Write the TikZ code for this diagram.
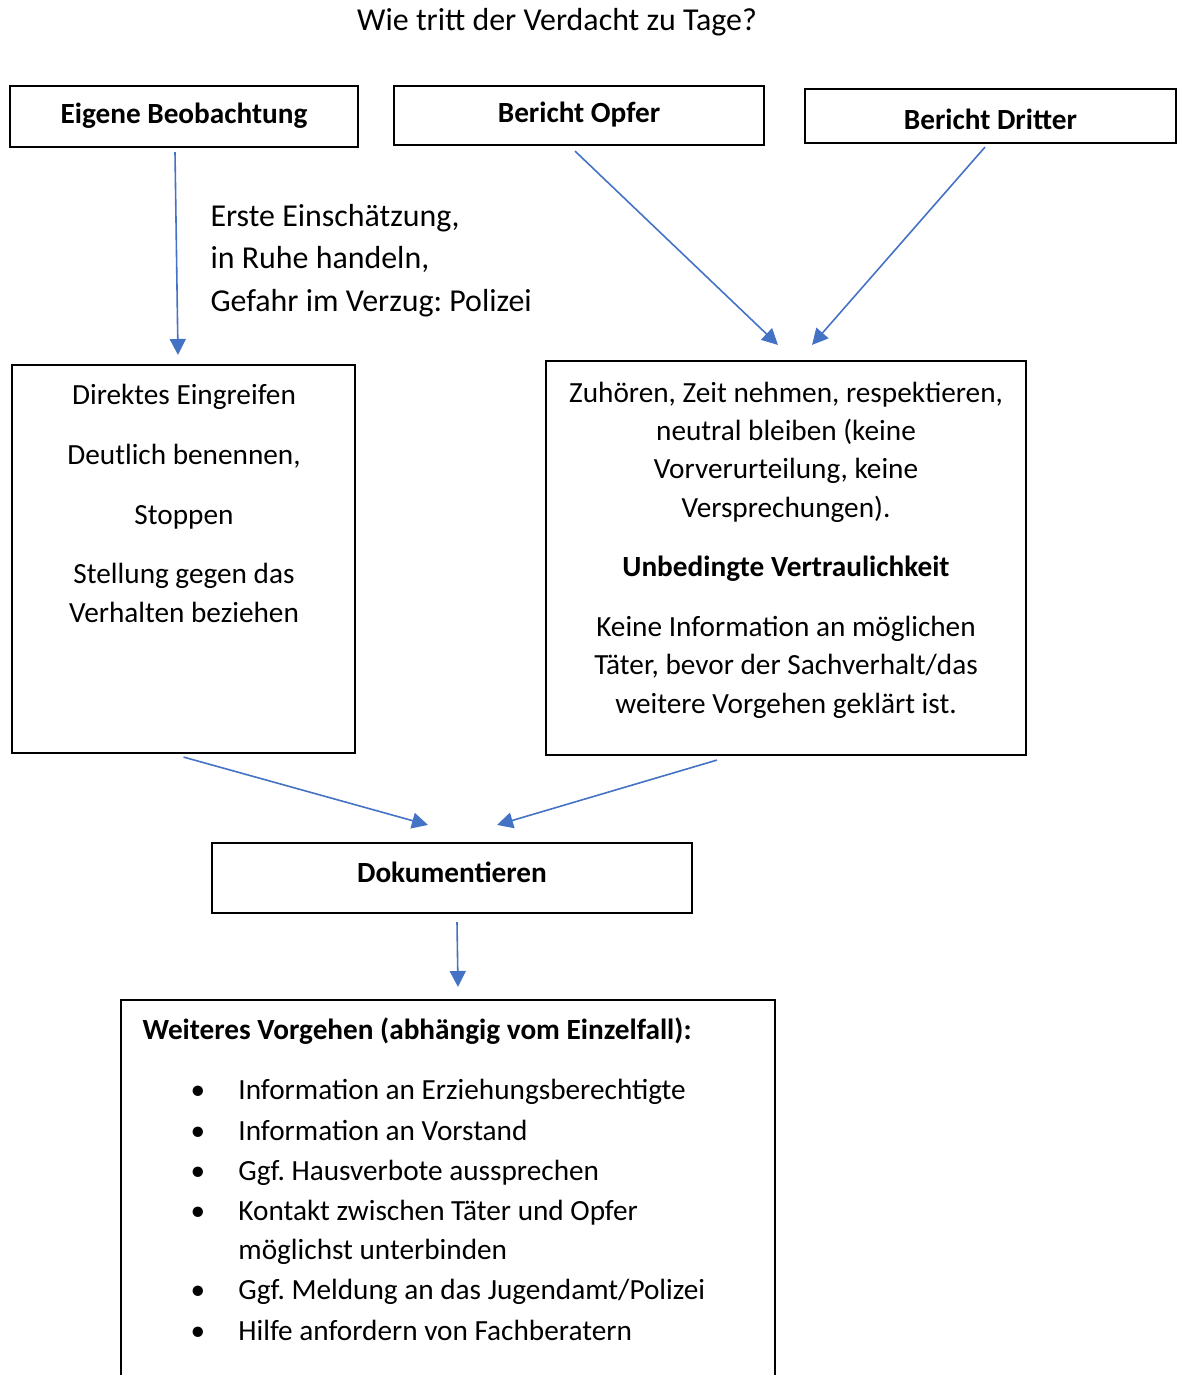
\documentclass[tikz,border=0pt]{standalone}
\usepackage{fontspec}
\setmainfont{Carlito}
\usetikzlibrary{arrows.meta,calc}
\definecolor{pfeilblau}{HTML}{4472C4}
\newlength\pxu
\setlength\pxu{0.376pt}
\newcommand\listpunkt{\makebox[18pt][l]{•}}
\frenchspacing

\begin{document}
\begin{tikzpicture}[x=0.376pt,y=-0.376pt,
  kasten/.style={draw,line width=0.8pt,inner sep=0pt},
  kopf/.style={kasten,font=\fontsize{11}{14.4}\selectfont\bfseries,text height=8pt,text depth=2.5pt},
  txt/.style={inner sep=0pt,font=\fontsize{11}{14.4}\selectfont},
  pfeil/.style={draw=pfeilblau,line width=0.6pt,-{Triangle[length=6pt,width=6pt]}}]
\useasboundingbox (0,0) rectangle (1185,1375);
\clip (0,0) rectangle (1185,1375);

% Titel und obere Reihe
\node[txt,font=\fontsize{12}{15.8}\selectfont,anchor=base] (titel) at (557,30) {Wie tritt der Verdacht zu Tage?};
\node[kopf,minimum width=348\pxu,minimum height=61\pxu] (eb) at (184,116.5) {Eigene Beobachtung};
\node[kopf,minimum width=370\pxu,minimum height=59\pxu] (opfer) at (579,115.5) {Bericht Opfer};
\node[kopf,minimum width=371\pxu,minimum height=54\pxu,text height=10pt,text depth=0pt] (dritter) at (990.5,116) {Bericht Dritter};

% base = letzte Zeile
\node[txt,font=\fontsize{12}{15.8}\selectfont,align=left,anchor=base west] (hinweis) at (210,311)
  {Erste Einschätzung,\\ in Ruhe handeln,\\ Gefahr im Verzug: Polizei};

% mittlere Reihe
\node[kasten,minimum width=343\pxu,minimum height=388\pxu] (dir) at (183.5,559) {};
\node[txt,align=center,anchor=base] (dirtext) at (184,622)
  {Direktes Eingreifen\\[8pt] Deutlich benennen,\\[8pt] Stoppen\\[8pt] Stellung gegen das\\ Verhalten beziehen};

\node[kasten,minimum width=480\pxu,minimum height=394\pxu] (zu) at (786,558) {};
\node[txt,align=center,anchor=base] (zutext) at (786,713)
  {Zuhören, Zeit nehmen, respektieren,\\ neutral bleiben (keine\\ Vorverurteilung, keine\\ Versprechungen).\\[8pt]
   \textbf{Unbedingte Vertraulichkeit}\\[8pt]
   Keine Information an möglichen\\ Täter, bevor der Sachverhalt/das\\ weitere Vorgehen geklärt ist.};

% untere Reihe
\node[kopf,minimum width=480\pxu,minimum height=70\pxu,text depth=4.8pt] (dok) at (452,878) {Dokumentieren};

\node[kasten,minimum width=654\pxu,minimum height=420\pxu] (wv) at (448,1210) {};
\node[txt,font=\fontsize{11}{14.4}\selectfont\bfseries,anchor=base west] (wvkopf) at (142,1039)
  {Weiteres Vorgehen (abhängig vom Einzelfall):};
\node[txt,align=left,anchor=base west] (wvliste) at (190,1340)
  {\listpunkt Information an Erziehungsberechtigte\\[0.8pt]
   \listpunkt Information an Vorstand\\[0.8pt]
   \listpunkt Ggf. Hausverbote aussprechen\\[0.8pt]
   \listpunkt Kontakt zwischen Täter und Opfer\\
   \hspace*{18pt}möglichst unterbinden\\[0.8pt]
   \listpunkt Ggf. Meldung an das Jugendamt/Polizei\\[0.8pt]
   \listpunkt Hilfe anfordern von Fachberatern};

% Pfeile
\draw[pfeil] ($(eb.south)+(-9,4)$) -- ($(dir.north)+(-5.5,-9)$);
\draw[pfeil] ($(opfer.south)+(-4,5)$) -- ($(zu.north)+(-8,-15)$);
\draw[pfeil] ($(dritter.south)+(-5.5,3)$) -- ($(zu.north)+(26,-15)$);
\draw[pfeil] ($(dir.south)+(0,3)$) -- ($(dok.north)+(-24,-17)$);
\draw[pfeil] ($(zu.south)+(-69,4)$) -- ($(dok.north)+(45,-17)$);
\draw[pfeil] ($(dok.south)+(5,8)$) -- ($(wv.north)+(10,-12)$);
\end{tikzpicture}
\end{document}
